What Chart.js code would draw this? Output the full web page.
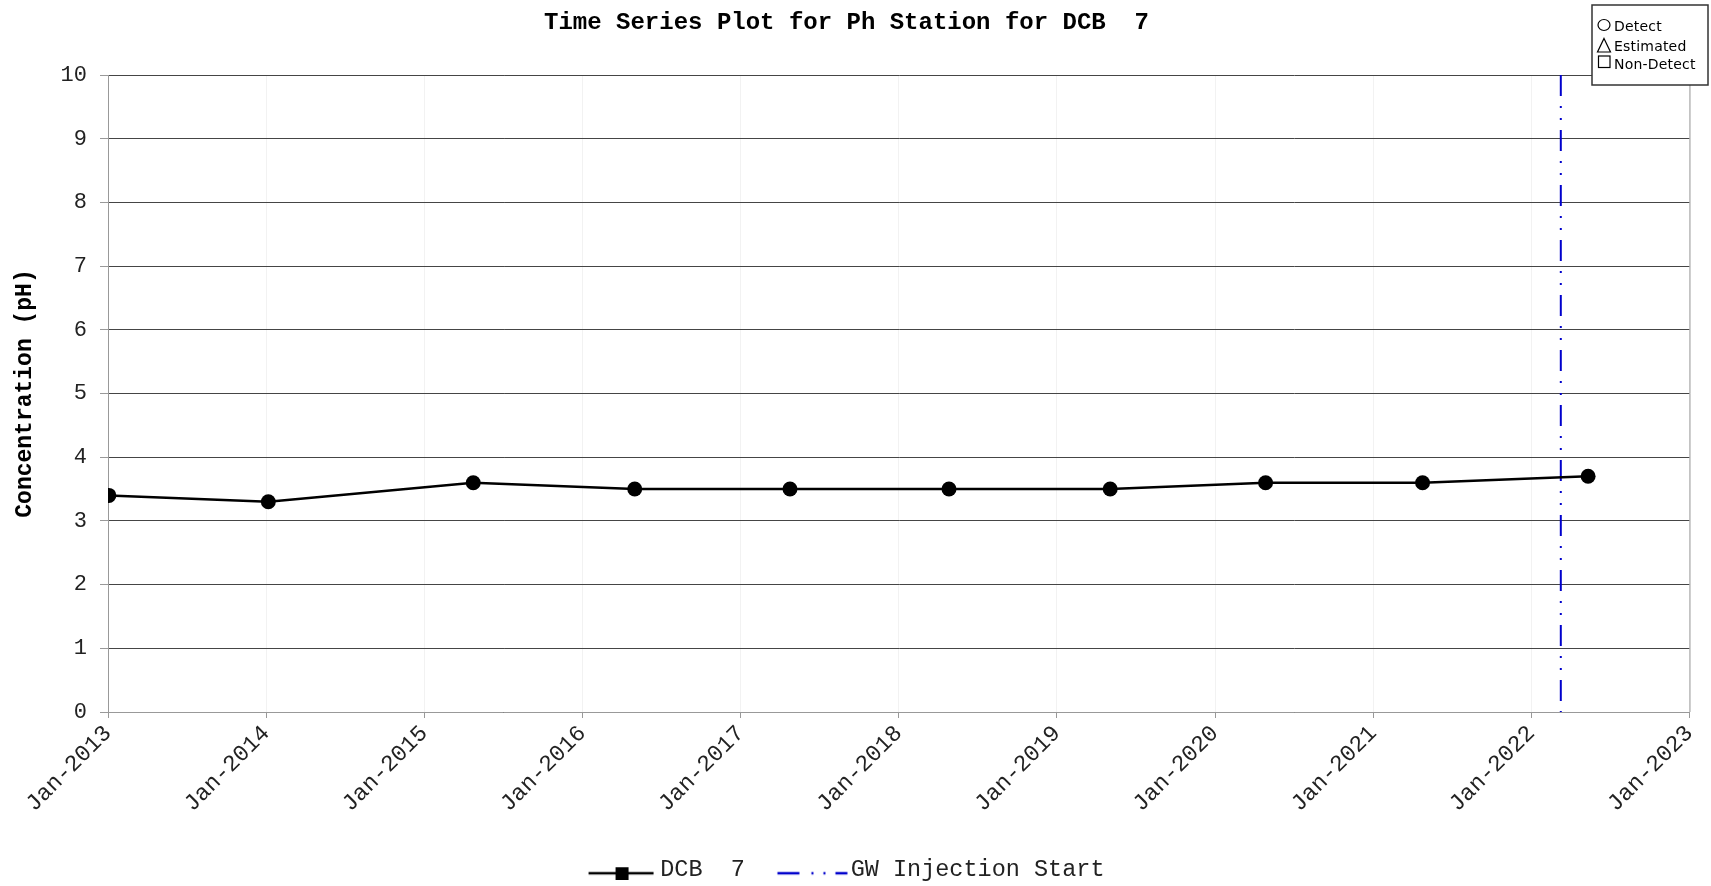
<!DOCTYPE html>
<html>
<head>
<meta charset="utf-8">
<title>Time Series Plot for Ph Station for DCB 7</title>
<script src="https://cdn.jsdelivr.net/npm/chart.js@4.4.1/dist/chart.umd.min.js"></script>
<style>
    html, body { margin: 0; padding: 0; background: #fff; }
    #wrap { width: 1711px; height: 886px; position: relative; }
</style>
</head>
<body>
<div id="wrap"><canvas id="ph-chart"></canvas></div>
<script>
// Sampling dates and measured pH at station DCB 7
const sampleDates = ['2013-01-03', '2014-01-06', '2015-04-24', '2016-05-01', '2017-04-25',
                     '2018-04-27', '2019-05-04', '2020-04-27', '2021-04-25', '2022-05-12'];
const phValues = [3.4, 3.3, 3.6, 3.5, 3.5, 3.5, 3.5, 3.6, 3.6, 3.7];

// Start of groundwater injection
const injectionDate = '2022-03-10';

// Axis ticks
const yearTicks = [2013, 2014, 2015, 2016, 2017, 2018, 2019, 2020, 2021, 2022, 2023];
const yearLabels = ['Jan-2013', 'Jan-2014', 'Jan-2015', 'Jan-2016', 'Jan-2017', 'Jan-2018',
                    'Jan-2019', 'Jan-2020', 'Jan-2021', 'Jan-2022', 'Jan-2023'];
const yRange = [0, 10];

// Symbol key shown in the corner box
const symbolNames = ['Detect', 'Estimated', 'Non-Detect'];

const seriesName = 'DCB  7';
const injectionName = 'GW Injection Start';
const injectionDash = [21, 10, 2, 10, 2, 10];

const PLOT_LEFT = 108;
const PLOT_BOTTOM = 712;
const LEGEND_DROP = 6;   // legend sits a little below the default bottom box

// Convert 'YYYY-MM-DD' to a decimal year so it sits on a linear axis
function toYear(s) {
    const d = new Date(s + 'T00:00:00Z');
    const y = d.getUTCFullYear();
    const start = Date.UTC(y, 0, 1);
    const end = Date.UTC(y + 1, 0, 1);
    return y + (d.getTime() - start) / (end - start);
}

const seriesPoints = sampleDates.map((d, i) => ({ x: toYear(d), y: phValues[i] }));
const injectionX = toYear(injectionDate);
const injectionPoints = [{ x: injectionX, y: yRange[1] }, { x: injectionX, y: yRange[0] }];

// Small swatches used as legend symbols
function makeSwatch(draw) {
    const c = document.createElement('canvas');
    c.width = 80;
    c.height = 20;
    draw(c.getContext('2d'));
    return c;
}

const seriesSwatch = makeSwatch(ctx => {
    ctx.strokeStyle = '#000';
    ctx.lineWidth = 2.5;
    ctx.beginPath();
    ctx.moveTo(10, 13);
    ctx.lineTo(75, 13);
    ctx.stroke();
    ctx.fillStyle = '#000';
    ctx.fillRect(37, 7, 13, 13);
});

const injectionSwatch = makeSwatch(ctx => {
    ctx.strokeStyle = '#0000cc';
    ctx.lineWidth = 2.5;
    ctx.setLineDash([22, 12, 2, 10, 2, 10]);
    ctx.beginPath();
    ctx.moveTo(8.5, 13);
    ctx.lineTo(78.5, 13);
    ctx.stroke();
});

// Right-hand frame line of the plot area
const plotFrame = {
    id: 'plotFrame',
    beforeDatasetsDraw(chart) {
        const { ctx, chartArea } = chart;
        ctx.save();
        ctx.strokeStyle = '#999';
        ctx.lineWidth = 1;
        ctx.beginPath();
        ctx.moveTo(chartArea.right + 0.5, chartArea.top);
        ctx.lineTo(chartArea.right + 0.5, chartArea.bottom);
        ctx.stroke();
        ctx.restore();
    }
};

// Detect / Estimated / Non-Detect key in the top right corner
const symbolBox = {
    id: 'symbolBox',
    afterDraw(chart) {
        const ctx = chart.ctx;
        const x = chart.width - 119;
        const y = 5;
        const cx = x + 12;
        ctx.save();
        ctx.fillStyle = '#fff';
        ctx.fillRect(x, y, 116, 80);
        ctx.strokeStyle = '#333';
        ctx.lineWidth = 1.5;
        ctx.strokeRect(x, y, 116, 80);

        ctx.lineWidth = 1.2;
        ctx.strokeStyle = '#000';
        ctx.beginPath();
        ctx.ellipse(cx, y + 20, 6, 5.5, 0, 0, Math.PI * 2);
        ctx.stroke();
        ctx.beginPath();
        ctx.moveTo(cx, y + 33.5);
        ctx.lineTo(cx + 6.5, y + 47);
        ctx.lineTo(cx - 6.5, y + 47);
        ctx.closePath();
        ctx.stroke();
        ctx.strokeRect(cx - 5.5, y + 51, 11.5, 11.5);

        ctx.fillStyle = '#000';
        ctx.font = '14px "DejaVu Sans"';
        ctx.letterSpacing = '0.2px';
        ctx.textBaseline = 'middle';
        const rows = [22, 42, 60];
        symbolNames.forEach((name, i) => ctx.fillText(name, x + 22, y + rows[i]));
        ctx.restore();
    }
};

const chart = new Chart(document.getElementById('ph-chart'), {
    type: 'line',
    data: {
        datasets: [
            {
                label: seriesName,
                data: seriesPoints,
                borderColor: '#000',
                backgroundColor: '#000',
                borderWidth: 2.5,
                pointRadius: 7.5,
                pointHoverRadius: 7.5,
                pointBackgroundColor: '#000',
                pointBorderWidth: 0,
                tension: 0
            },
            {
                label: injectionName,
                data: injectionPoints,
                borderColor: '#0000cc',
                borderWidth: 2,
                borderDash: injectionDash,
                pointRadius: 0,
                fill: false
            }
        ]
    },
    options: {
        responsive: true,
        maintainAspectRatio: false,
        animation: false,
        layout: { padding: { top: 0, left: 0, right: 18, bottom: -LEGEND_DROP } },
        plugins: {
            tooltip: { enabled: false },
            title: {
                display: true,
                text: 'Time Series Plot for Ph Station for DCB  7',
                color: '#000',
                font: { family: '"Liberation Mono", monospace', size: 24, weight: 'bold' },
                padding: { top: 9, bottom: 37.2 }
            },
            legend: {
                position: 'bottom',
                labels: {
                    font: { family: '"Liberation Mono", monospace', size: 23.5 },
                    color: '#222',
                    usePointStyle: true,
                    pointStyleWidth: 60,
                    padding: 34,
                    generateLabels: () => [
                        { text: seriesName, pointStyle: seriesSwatch, fontColor: '#222', lineWidth: 0, datasetIndex: 0 },
                        { text: injectionName, pointStyle: injectionSwatch, fontColor: '#222', lineWidth: 0, datasetIndex: 1 }
                    ]
                }
            }
        },
        scales: {
            x: {
                type: 'linear',
                min: yearTicks[0],
                max: yearTicks[yearTicks.length - 1],
                afterBuildTicks: scale => { scale.ticks = yearTicks.map(v => ({ value: v })); },
                afterFit: scale => {
                    const legendH = scale.chart.legend ? scale.chart.legend.height : 0;
                    scale.height = scale.chart.height + LEGEND_DROP - PLOT_BOTTOM - legendH;
                },
                border: { color: '#999', width: 1 },
                grid: { color: 'rgba(0,0,0,0.05)', tickColor: '#999', tickLength: 6 },
                ticks: {
                    autoSkip: false,
                    minRotation: 45,
                    maxRotation: 45,
                    padding: 2,
                    color: '#222',
                    font: { family: '"Liberation Mono", monospace', size: 23 },
                    callback: (value, index) => yearLabels[index]
                }
            },
            y: {
                min: yRange[0],
                max: yRange[1],
                afterFit: scale => { scale.width = PLOT_LEFT; },
                border: { color: '#999', width: 1 },
                grid: { color: '#454545', tickColor: '#999', tickLength: 8 },
                ticks: {
                    stepSize: 1,
                    padding: 13,
                    color: '#222',
                    font: { family: '"Liberation Mono", monospace', size: 22 }
                },
                title: {
                    display: true,
                    text: 'Concentration (pH)',
                    color: '#000',
                    font: { family: '"Liberation Mono", monospace', size: 23, weight: 'bold' },
                    padding: { top: 11, bottom: 0 }
                }
            }
        }
    },
    plugins: [plotFrame, symbolBox]
});
</script>
</body>
</html>
